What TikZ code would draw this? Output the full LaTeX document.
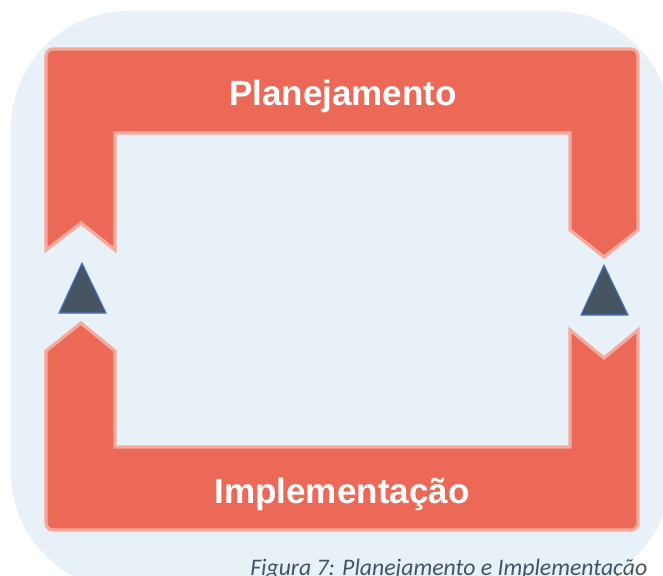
\documentclass[tikz,border=0pt]{standalone}
\usepackage{fontspec}
\usepackage{xcolor}
\newfontfamily\labelfont{Liberation Sans}
\newfontfamily\captionfont{Carlito}
\definecolor{panelblue}{RGB}{232,240,248}
\definecolor{bandred}{RGB}{236,104,87}
\definecolor{bandedge}{RGB}{246,170,157}
\definecolor{markfill}{RGB}{71,85,99}
\definecolor{markedge}{RGB}{68,114,196}
\definecolor{captiongray}{RGB}{68,84,106}

\begin{document}
\begin{tikzpicture}[x=0.75pt,y=0.75pt,yscale=-1,xscale=1,
    band/.style={fill=bandred, draw=bandedge, line width=2.4pt, line join=miter},
    marker/.style={fill=markfill, draw=markedge, line width=0.8pt},
    bandlabel/.style={text=white, font=\labelfont\bfseries\fontsize{26.3}{31}\selectfont, anchor=base}]
    \useasboundingbox (0,0) rectangle (663,575);
    \clip (0,0) rectangle (663,575);

    %Rounded Rect: background panel
    \fill [panelblue, rounded corners=88] (11,11) rectangle (671,590);

    %Shape: upper band
    \draw [band] (46,250) -- (81,223) -- (115,250) -- (115,133) -- (570,133) -- (570,230) -- (604,257) -- (638,230) -- (638,56) arc [start angle=0, end angle=-90, radius=7] -- (53,49) arc [start angle=-90, end angle=-180, radius=7] -- cycle ;
    %Shape: lower band
    \draw [band] (46,351) -- (81,323) -- (115,351) -- (115,447) -- (570,447) -- (570,330) -- (604,358) -- (638,330) -- (638,523) arc [start angle=0, end angle=90, radius=7] -- (53,530) arc [start angle=90, end angle=180, radius=7] -- cycle ;

    %Shape: Triangle left
    \draw [marker] (59,313) -- (82,263) -- (106,313) -- cycle ;
    %Shape: Triangle right
    \draw [marker] (581,315) -- (604,265) -- (628,315) -- cycle ;

    % Text Node
    \node [bandlabel] (plan) at (343,105) {Planejamento};
    % Text Node
    \node [bandlabel] (impl) at (342,503) {Implementação};
    % Text Node
    \node [anchor=base west, inner sep=0pt, text=captiongray, font=\captionfont\itshape\fontsize{17.8}{22}\selectfont] (caption) at (250,575) {Figura 7: Planejamento e Implementação};
\end{tikzpicture}
\end{document}
